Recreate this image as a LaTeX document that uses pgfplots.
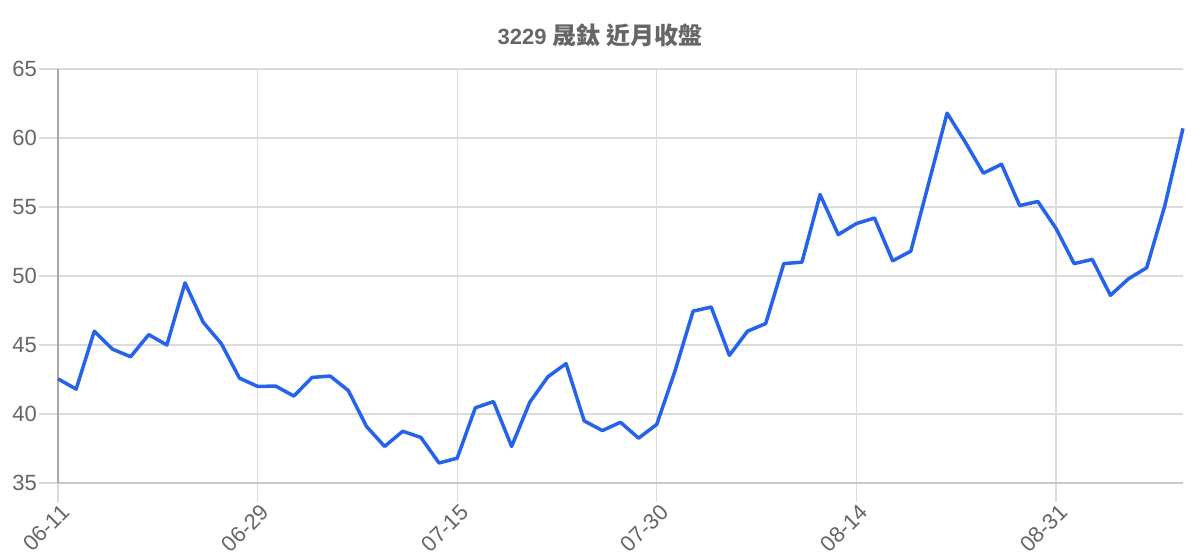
\documentclass[border=0pt]{standalone}
\usepackage{fontspec}
\setmainfont{Liberation Sans}
\newfontfamily\cjk{Noto Sans CJK TC}
\usepackage{pgfplots}
\pgfplotsset{compat=1.18}
\definecolor{lineblue}{HTML}{2563EB}
\definecolor{txt}{HTML}{666666}
\definecolor{gridc}{HTML}{DBDBDB}
\definecolor{axc}{HTML}{A8A8A8}
\definecolor{axb}{HTML}{C8C8C8}
\pgfplotstableread{
i v
0 42.55
1 41.8
2 46.0
3 44.7
4 44.15
5 45.75
6 45.0
7 49.5
8 46.65
9 45.1
10 42.6
11 42.0
12 42.02
13 41.3
14 42.65
15 42.75
16 41.7
17 39.1
18 37.65
19 38.75
20 38.3
21 36.45
22 36.8
23 40.45
24 40.9
25 37.65
26 40.85
27 42.7
28 43.65
29 39.5
30 38.8
31 39.4
32 38.25
33 39.25
34 43.1
35 47.45
36 47.75
37 44.25
38 46.0
39 46.55
40 50.9
41 51.0
42 55.9
43 53.0
44 53.8
45 54.2
46 51.1
47 51.8
48 56.8
49 61.8
50 59.7
51 57.45
52 58.1
53 55.1
54 55.4
55 53.45
56 50.9
57 51.2
58 48.6
59 49.8
60 50.6
61 55.1
62 60.7
}\closedata
\begin{document}
\begin{tikzpicture}[x=1bp,y=1bp]
\path[use as bounding box] (-58bp,-77bp) rectangle (1142bp,483bp);
\begin{axis}[
  at={(0,0)}, anchor=south west,
  scale only axis, width=1125bp, height=414bp,
  xmin=0, xmax=62, ymin=35, ymax=65,
  clip=false,
  axis lines=left, axis line style={-},
  x axis line style={draw=axb, line width=1.2bp},
  y axis line style={draw=axc, line width=1.2bp},
  xtick={0,11,22,33,44,55},
  xticklabels={06-11,06-29,07-15,07-30,08-14,08-31},
  ytick={35,40,45,50,55,60,65},
  grid=major, major grid style={draw=gridc, line width=1.1bp},
  tick align=outside, major tick length=19bp,
  major tick style={draw=gridc, line width=1.1bp},
  /pgf/number format/assume math mode=true,
  tick label style={font=\fontsize{22bp}{26bp}\selectfont, text=txt},
  yticklabel style={anchor=east, inner sep=2bp},
  xticklabel style={rotate=45, anchor=north east, inner sep=2bp, xshift=3bp},
]
\addplot[lineblue, line width=3.5bp, line join=round, mark=none] table[x=i, y=v] {\closedata};
\end{axis}
\node[text=txt, font=\bfseries] at (542bp,448bp) {\fontsize{22bp}{26bp}\selectfont 3229 {\cjk\fontsize{24bp}{28bp}\selectfont 晟鈦 近月收盤}};
\end{tikzpicture}
\end{document}
